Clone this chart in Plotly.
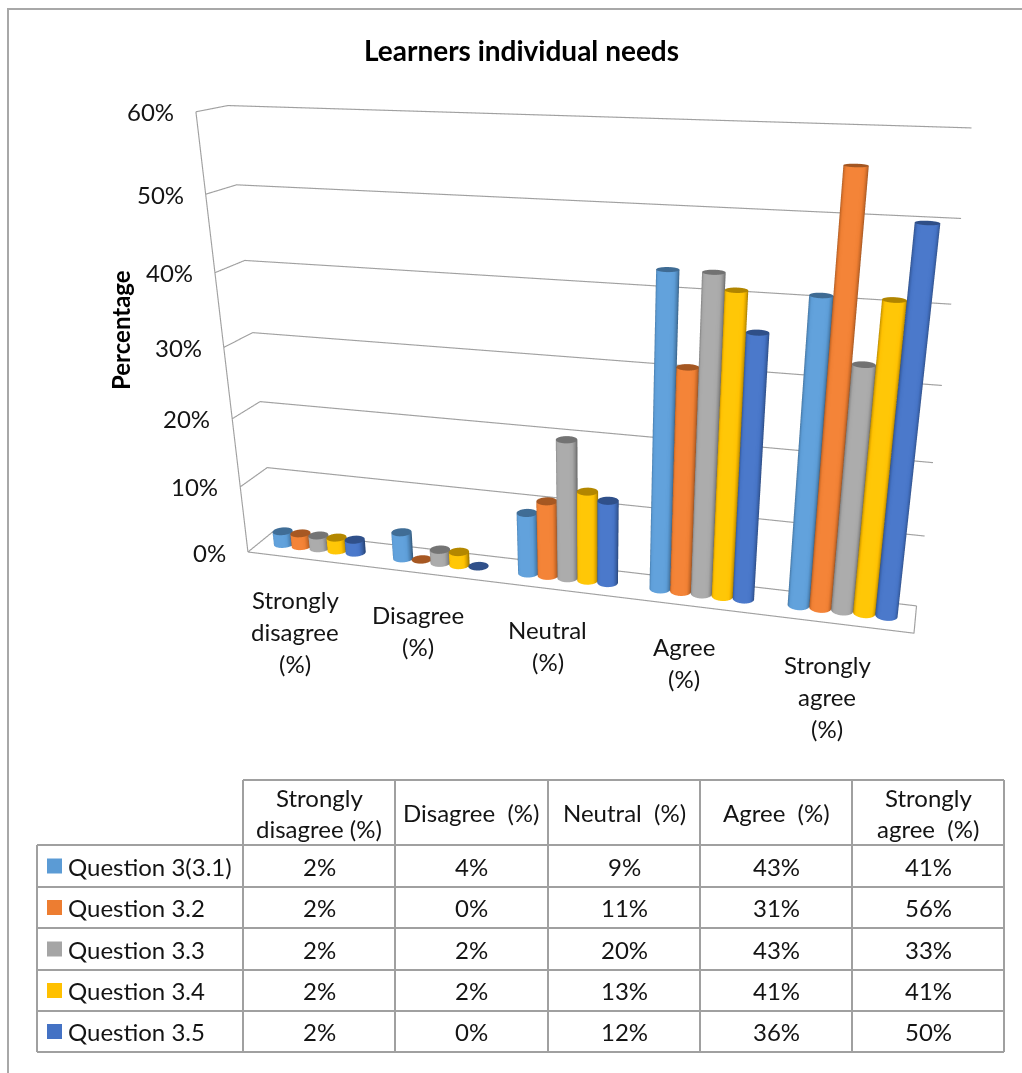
import numpy as np
import plotly.graph_objects as go

# ---- data -------------------------------------------------------------
categories = ["Strongly disagree (%)", "Disagree (%)", "Neutral (%)", "Agree (%)", "Strongly agree (%)"]
axis_label_lines = [["Strongly", "disagree", "(%)"], ["Disagree", "(%)"], ["Neutral", "(%)"],
                    ["Agree", "(%)"], ["Strongly", "agree", "(%)"]]
header_lines = [["Strongly", "disagree (%)"], ["Disagree\u00a0 (%)"], ["Neutral\u00a0 (%)"],
                ["Agree\u00a0 (%)"], ["Strongly", "agree\u00a0 (%)"]]

series_names = ["Question 3(3.1)", "Question 3.2", "Question 3.3", "Question 3.4", "Question 3.5"]
q3_1 = [2, 4, 9, 43, 41]
q3_2 = [2, 0, 11, 31, 56]
q3_3 = [2, 2, 20, 43, 33]
q3_4 = [2, 2, 13, 41, 41]
q3_5 = [2, 0, 12, 36, 50]
series_values = [q3_1, q3_2, q3_3, q3_4, q3_5]
series_colors = ["#5B9BD5", "#ED7D31", "#A5A5A5", "#FFC000", "#4472C4"]

z_ticks = [0, 10, 20, 30, 40, 50, 60]
title_text = "Learners individual needs"
axis_title = "Percentage"

# ---- geometry helpers ----------------------------------------------------
W, H = 1022, 1073
FONT = "Lato"
TXT = "#141414"
GRID = "#A0A0A0"


def px(x):
    return x / W


def py(y):
    return 1 - y / H


# walls / floor of the plot box, and the (slightly padded) axis ranges around them
X_BOX = [-0.5, 4.5]
Y_BOX = [-0.21, 0.21]
Z_BOX = [0, 0.6]
PAD = 0.02
X_RANGE = [X_BOX[0] - PAD, X_BOX[1] + PAD]
Y_RANGE = [Y_BOX[0] - PAD, Y_BOX[1] + PAD]
Z_RANGE = [Z_BOX[0] - PAD / 4, Z_BOX[1] + PAD / 4]
BAR_STEP = 0.152
BAR_R = 0.076
UNIT = 1.02 / 5.0           # scene length of one category unit (x and y share it)
Z_UNIT = 0.66 / 0.6         # scene length of one value unit


def cylinder(cx, cy, r, h, n=40):
    th = np.linspace(0, 2 * np.pi, n, endpoint=False)
    rx, ry = cx + r * np.cos(th), cy + r * np.sin(th)
    xs, ys, zs, I, J, K = [], [], [], [], [], []
    if h > 0:
        xs += list(rx) + list(rx)
        ys += list(ry) + list(ry)
        zs += [0.0] * n + [h] * n
        for k in range(n):
            a, b = k, (k + 1) % n
            I += [a, a]
            J += [b, n + b]
            K += [n + b, n + a]
    base = len(xs)
    top = max(h, 0.0015)
    xs += [cx] + list(rx)
    ys += [cy] + list(ry)
    zs += [top] + [top] * n
    for k in range(n):
        I.append(base)
        J.append(base + 1 + k)
        K.append(base + 1 + (k + 1) % n)
    return xs, ys, zs, I, J, K


fig = go.Figure()

# gridlines on the side wall and back wall, one per tick value
gx, gy, gz = [], [], []
for t in z_ticks:
    gx += [X_BOX[0], X_BOX[0], X_BOX[1], None]
    gy += [Y_BOX[0], Y_BOX[1], Y_BOX[1], None]
    gz += [t / 100, t / 100, t / 100, None]
# floor outline and front edge of the side wall
gx += [X_BOX[0], X_BOX[1], X_BOX[1], None, X_BOX[0], X_BOX[0]]
gy += [Y_BOX[0], Y_BOX[0], Y_BOX[1], None, Y_BOX[0], Y_BOX[0]]
gz += [0, 0, 0, None, Z_BOX[0], Z_BOX[1]]
fig.add_trace(go.Scatter3d(x=gx, y=gy, z=gz, mode="lines", connectgaps=False,
                           line=dict(color=GRID, width=2.3), hoverinfo="skip", showlegend=False))

for j, (name, vals, col) in enumerate(zip(series_names, series_values, series_colors)):
    X, Y, Z, I, J, K = [], [], [], [], [], []
    for i, v in enumerate(vals):
        xs, ys, zs, ii, jj, kk = cylinder(i + (j - 2) * BAR_STEP, 0.0, BAR_R, v / 100)
        off = len(X)
        X += xs; Y += ys; Z += zs
        I += [t + off for t in ii]; J += [t + off for t in jj]; K += [t + off for t in kk]
    fig.add_trace(go.Mesh3d(
        x=X, y=Y, z=Z, i=I, j=J, k=K, color=col, name=name, flatshading=False,
        lighting=dict(ambient=0.62, diffuse=0.55, specular=0.12, roughness=0.6, fresnel=0.05),
        lightposition=dict(x=-60000, y=-100000, z=60000),
        hoverinfo="skip", showscale=False))

# axis labels placed in scene coordinates
scene_ann = []
for t in z_ticks:
    scene_ann.append(dict(x=X_BOX[0], y=Y_BOX[0], z=t / 100, text=f"{t}%", showarrow=False,
                          xanchor="right", yanchor="middle", xshift=-20,
                          font=dict(family=FONT, size=24, color=TXT)))
for i, lines in enumerate(axis_label_lines):
    for k, ln in enumerate(lines):
        scene_ann.append(dict(x=i, y=Y_BOX[0], z=0, text=ln, showarrow=False,
                              xanchor="center", yanchor="middle", xshift=-12,
                              yshift=-(40 + 32 * k), font=dict(family=FONT, size=24, color=TXT)))

ax_common = dict(showticklabels=False, showspikes=False, showbackground=False, showgrid=False,
                 zeroline=False, showline=False, title=dict(text=""))
fig.update_layout(
    scene=dict(
        domain=dict(x=[px(180), px(1000)], y=[0, 1]),
        xaxis=dict(range=X_RANGE, **ax_common),
        yaxis=dict(range=Y_RANGE, **ax_common),
        zaxis=dict(range=Z_RANGE, **ax_common),
        aspectmode="manual",
        aspectratio=dict(x=UNIT * (X_RANGE[1] - X_RANGE[0]),
                         y=UNIT * (Y_RANGE[1] - Y_RANGE[0]),
                         z=Z_UNIT * (Z_RANGE[1] - Z_RANGE[0])),
        camera=dict(eye=dict(x=0.4939, y=-1.6839, z=0.5190),
                    center=dict(x=0.0580, y=-0.0851, z=-0.2187),
                    up=dict(x=0, y=0, z=1),
                    projection=dict(type="perspective")),
        annotations=scene_ann,
        bgcolor="rgba(0,0,0,0)",
    )
)

# ---- title, axis title, table ---------------------------------------------
ann = [
    dict(x=px(521), y=py(50), text=f"<b>{title_text}</b>", showarrow=False,
         xanchor="center", yanchor="middle", font=dict(family=FONT, size=28, color="#000000")),
    dict(x=px(120), y=py(330), text=f"<b>{axis_title}</b>", textangle=-90, showarrow=False,
         xanchor="center", yanchor="middle", font=dict(family=FONT, size=24, color="#000000")),
]

cols = [37, 243, 395, 548, 700, 852, 1004]
rows = [780, 845, 887, 928, 970, 1011, 1052]
shapes = []
lc = dict(color="#A0A0A0", width=2)
# horizontal rules
shapes.append(dict(type="line", xref="paper", yref="paper", x0=px(cols[1]), x1=px(cols[-1]),
                   y0=py(rows[0]), y1=py(rows[0]), line=lc))
for r in rows[1:]:
    shapes.append(dict(type="line", xref="paper", yref="paper", x0=px(cols[0]), x1=px(cols[-1]),
                       y0=py(r), y1=py(r), line=lc))
# vertical rules
shapes.append(dict(type="line", xref="paper", yref="paper", x0=px(cols[0]), x1=px(cols[0]),
                   y0=py(rows[1]), y1=py(rows[-1]), line=lc))
for c in cols[1:]:
    shapes.append(dict(type="line", xref="paper", yref="paper", x0=px(c), x1=px(c),
                       y0=py(rows[0]), y1=py(rows[-1]), line=lc))


def cell_text(x, y, text, anchor="center"):
    return dict(x=px(x), y=py(y), text=text, showarrow=False, xanchor=anchor, yanchor="middle",
                font=dict(family=FONT, size=24, color=TXT))


# header cells
for ci, lines in enumerate(header_lines):
    xc = (cols[ci + 1] + cols[ci + 2]) / 2
    yc = (rows[0] + rows[1]) / 2
    n = len(lines)
    for k, ln in enumerate(lines):
        ann.append(cell_text(xc, yc + (k - (n - 1) / 2) * 31, ln))

# body rows: legend key, series name, values
for si, (name, vals, col) in enumerate(zip(series_names, series_values, series_colors)):
    yc = (rows[si + 1] + rows[si + 2]) / 2
    shapes.append(dict(type="rect", xref="paper", yref="paper", x0=px(47), x1=px(62),
                       y0=py(yc - 7.5), y1=py(yc + 7.5), fillcolor=col, line=dict(width=0)))
    ann.append(cell_text(66, yc, name, "left"))
    for ci, v in enumerate(vals):
        xc = (cols[ci + 1] + cols[ci + 2]) / 2
        ann.append(cell_text(xc, yc, f"{v}%"))

# chart frame
shapes.append(dict(type="rect", xref="paper", yref="paper", x0=px(8), x1=px(1040),
                   y0=py(9), y1=py(1090), line=dict(color="#A8A8A8", width=2)))

fig.update_layout(width=W, height=H, margin=dict(l=0, r=0, t=0, b=0),
                  paper_bgcolor="white", plot_bgcolor="white",
                  showlegend=False, annotations=ann, shapes=shapes, hovermode=False)

fig.write_html("out.html")
